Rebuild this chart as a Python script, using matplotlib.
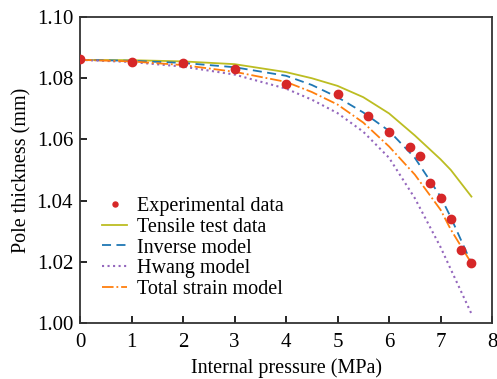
import numpy as np
import matplotlib.pyplot as plt

plt.rcParams['font.family'] = ['Liberation Serif', 'DejaVu Serif']

# Experimental points (MPa, mm)
exp_p = [0, 1, 2, 3, 4, 5, 5.6, 6.0, 6.4, 6.6, 6.8, 7.0, 7.2, 7.4, 7.6]
exp_t = [1.0863, 1.0852, 1.0849, 1.0831, 1.0780, 1.0750, 1.0675, 1.0625,
         1.0574, 1.0546, 1.0456, 1.0410, 1.0340, 1.0240, 1.0196]

# Model curves
curve_p = [0, 1, 2, 3, 4, 4.5, 5, 5.5, 6.0, 6.5, 7.0, 7.2, 7.6]
tensile_t = [1.0860, 1.0859, 1.0855, 1.0846, 1.0820, 1.0800, 1.0775, 1.0738, 1.0685,
             1.0613, 1.0535, 1.0500, 1.0413]
inverse_t = [1.0860, 1.0857, 1.0850, 1.0836, 1.0808, 1.0778, 1.0738, 1.0688, 1.0628,
             1.0540, 1.0413, 1.0345, 1.0195]
hwang_t = [1.0860, 1.0853, 1.0838, 1.0812, 1.0766, 1.0730, 1.0686, 1.0625, 1.0540,
           1.0408, 1.0248, 1.0175, 1.0030]
total_t = [1.0860, 1.0855, 1.0843, 1.0821, 1.0788, 1.0755, 1.0714, 1.0655, 1.0577,
           1.0485, 1.0370, 1.0305, 1.0195]

fig = plt.figure(figsize=(4.97, 3.79), dpi=100)
ax = fig.add_axes([0.161, 0.148, 0.829, 0.807])

ax.plot(exp_p, exp_t, 'o', color='#d62728', markersize=6, label='Experimental data', zorder=5)
ax.plot(curve_p, tensile_t, '-', color='#bcbd22', lw=1.3, label='Tensile test data')
ax.plot(curve_p, inverse_t, '--', color='#1f77b4', lw=1.3, dashes=(5, 3), label='Inverse model')
ax.plot(curve_p, hwang_t, ':', color='#9467bd', lw=1.5, label='Hwang model')
ax.plot(curve_p, total_t, '-.', color='#ff7f0e', lw=1.3, label='Total strain model')

ax.set_xlim(0, 8)
ax.set_ylim(1.00, 1.10)
ax.set_xticks(range(0, 9))
ax.set_yticks(np.arange(1.00, 1.101, 0.02))
ax.set_yticklabels(['1.00', '1.02', '1.04', '1.06', '1.08', '1.10'])
ax.tick_params(direction='in', length=5, width=1.2, labelsize=15, top=False, right=False)
ax.tick_params(axis='x', pad=7)
ax.tick_params(axis='y', pad=5)
for s in ax.spines.values():
    s.set_linewidth(1.3)
    s.set_color('#333333')

ax.set_xlabel('Internal pressure (MPa)', fontsize=14.5, labelpad=5)
ax.set_ylabel('Pole thickness (mm)', fontsize=14.5, labelpad=4)

ax.legend(loc='lower left', bbox_to_anchor=(0.035, 0.052), frameon=False, fontsize=14.5,
          handlelength=1.2, handletextpad=0.5, labelspacing=0.08, borderaxespad=0,
          markerscale=0.6)

fig.savefig('out.png', dpi=100)
